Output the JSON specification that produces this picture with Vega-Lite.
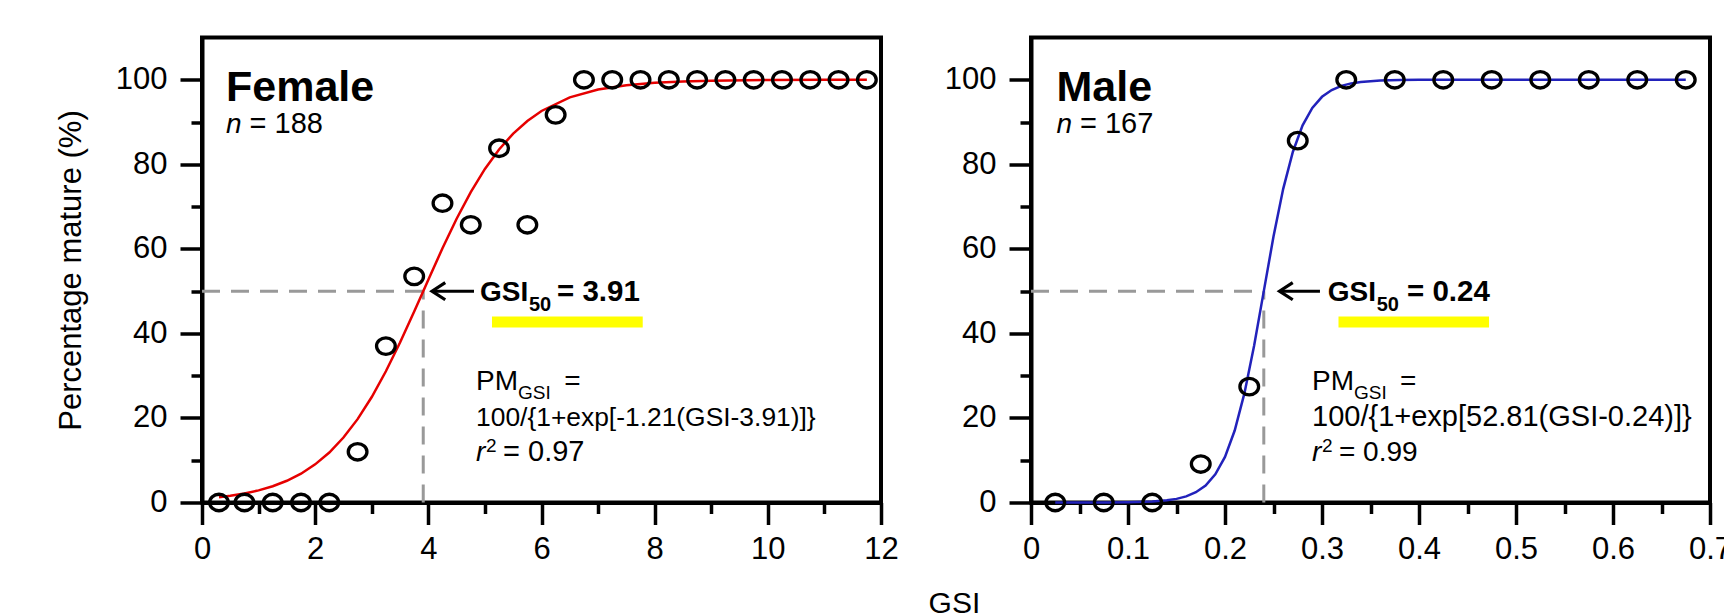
{
  "$schema": "https://vega.github.io/schema/vega-lite/v6.json",
  "background": "white",
  "padding": {"left": 53, "top": 35.5, "right": 0, "bottom": 0},
  "title": {"text": "GSI", "orient": "bottom", "anchor": "middle", "frame": "bounds", "dx": 61, "offset": 22, "font": "Liberation Sans", "fontSize": 30, "fontWeight": "normal", "color": "black"},
  "spacing": 150,
  "bounds": "flush",
  "datasets": {
    "f_obs": [
      {"x": 0.3, "y": 0}, {"x": 0.75, "y": 0}, {"x": 1.25, "y": 0}, {"x": 1.75, "y": 0}, {"x": 2.25, "y": 0},
      {"x": 2.75, "y": 12}, {"x": 3.25, "y": 37}, {"x": 3.75, "y": 53.5}, {"x": 4.25, "y": 70.8},
      {"x": 4.75, "y": 65.7}, {"x": 5.25, "y": 83.8}, {"x": 5.75, "y": 65.7}, {"x": 6.25, "y": 91.7},
      {"x": 6.75, "y": 100}, {"x": 7.25, "y": 100}, {"x": 7.75, "y": 100}, {"x": 8.25, "y": 100},
      {"x": 8.75, "y": 100}, {"x": 9.25, "y": 100}, {"x": 9.75, "y": 100}, {"x": 10.25, "y": 100},
      {"x": 10.75, "y": 100}, {"x": 11.25, "y": 100}, {"x": 11.75, "y": 100}
    ],
    "f_fit": [
      {"x": 0.3, "y": 1.25}, {"x": 0.5, "y": 1.59}, {"x": 0.75, "y": 2.14}, {"x": 1.0, "y": 2.87},
      {"x": 1.25, "y": 3.85}, {"x": 1.5, "y": 5.14}, {"x": 1.75, "y": 6.82}, {"x": 2.0, "y": 9.02},
      {"x": 2.25, "y": 11.83}, {"x": 2.5, "y": 15.37}, {"x": 2.75, "y": 19.72}, {"x": 3.0, "y": 24.96},
      {"x": 3.25, "y": 31.04}, {"x": 3.5, "y": 37.85}, {"x": 3.75, "y": 45.17}, {"x": 3.91, "y": 50},
      {"x": 4.0, "y": 52.72}, {"x": 4.25, "y": 60.14}, {"x": 4.5, "y": 67.13}, {"x": 4.75, "y": 73.43},
      {"x": 5.0, "y": 78.9}, {"x": 5.25, "y": 83.5}, {"x": 5.5, "y": 87.26}, {"x": 5.75, "y": 90.26},
      {"x": 6.0, "y": 92.62}, {"x": 6.5, "y": 95.83}, {"x": 7.0, "y": 97.68}, {"x": 7.5, "y": 98.72},
      {"x": 8.0, "y": 99.3}, {"x": 8.5, "y": 99.62}, {"x": 9.0, "y": 99.79}, {"x": 10.0, "y": 99.94},
      {"x": 11.0, "y": 99.98}, {"x": 11.75, "y": 99.99}
    ],
    "f_ann": [
      {"kind": "hl", "x": 5.125, "x2": 7.789, "y": 44.0, "y2": 41.4},
      {"kind": "dash", "x": 0, "x2": 3.91, "y": 50, "y2": 50},
      {"kind": "dash", "x": 3.91, "x2": 3.91, "y": 0, "y2": 50},
      {"kind": "arrow", "x": 4.1, "x2": 4.807, "y": 50},
      {"kind": "head", "x": 4.065, "y": 50},
      {"kind": "head1", "text": "Female", "x": 0.424, "y": 94.9},
      {"kind": "it", "text": "n", "x": 0.424, "y": 87.3},
      {"kind": "reg2", "text": "= 188", "x": 0.841, "y": 87.3},
      {"kind": "bold", "text": "GSI", "x": 4.913, "y": 47.55},
      {"kind": "boldsub", "text": "50", "x": 5.779, "y": 45.4},
      {"kind": "boldeq", "text": "= 3.91", "x": 6.274, "y": 47.55},
      {"kind": "reg", "text": "PM", "x": 4.843, "y": 26.5},
      {"kind": "sub", "text": "GSI", "x": 5.585, "y": 24.6},
      {"kind": "reg", "text": "=", "x": 6.4, "y": 26.5},
      {"kind": "l2", "text": "100/{1+exp[-1.21(GSI-3.91)]}", "x": 4.843, "y": 17.98},
      {"kind": "it", "text": "r", "x": 4.843, "y": 9.7},
      {"kind": "sub", "text": "2", "x": 5.019, "y": 12.06},
      {"kind": "req", "text": "= 0.97", "x": 5.32, "y": 9.7}
    ],
    "m_obs": [
      {"x": 0.025, "y": 0}, {"x": 0.075, "y": 0}, {"x": 0.125, "y": 0}, {"x": 0.175, "y": 9.1},
      {"x": 0.225, "y": 27.4}, {"x": 0.275, "y": 85.6}, {"x": 0.325, "y": 100}, {"x": 0.375, "y": 100},
      {"x": 0.425, "y": 100}, {"x": 0.475, "y": 100}, {"x": 0.525, "y": 100}, {"x": 0.575, "y": 100},
      {"x": 0.625, "y": 100}, {"x": 0.675, "y": 100}
    ],
    "m_fit": [
      {"x": 0.025, "y": 0.001}, {"x": 0.05, "y": 0.004}, {"x": 0.075, "y": 0.016}, {"x": 0.1, "y": 0.06},
      {"x": 0.125, "y": 0.23}, {"x": 0.14, "y": 0.51}, {"x": 0.15, "y": 0.86}, {"x": 0.16, "y": 1.44},
      {"x": 0.17, "y": 2.42}, {"x": 0.18, "y": 4.03}, {"x": 0.19, "y": 6.66}, {"x": 0.2, "y": 10.79},
      {"x": 0.21, "y": 17.02}, {"x": 0.22, "y": 25.8}, {"x": 0.23, "y": 37.09}, {"x": 0.24, "y": 50},
      {"x": 0.25, "y": 62.91}, {"x": 0.26, "y": 74.2}, {"x": 0.27, "y": 82.98}, {"x": 0.28, "y": 89.21},
      {"x": 0.29, "y": 93.34}, {"x": 0.3, "y": 95.97}, {"x": 0.31, "y": 97.58}, {"x": 0.32, "y": 98.56},
      {"x": 0.33, "y": 99.14}, {"x": 0.34, "y": 99.49}, {"x": 0.36, "y": 99.82}, {"x": 0.38, "y": 99.94},
      {"x": 0.4, "y": 99.98}, {"x": 0.5, "y": 100}, {"x": 0.675, "y": 100}
    ],
    "m_ann": [
      {"kind": "hl", "x": 0.317, "x2": 0.4722, "y": 44.0, "y2": 41.4},
      {"kind": "dash", "x": 0, "x2": 0.24, "y": 50, "y2": 50},
      {"kind": "dash", "x": 0.24, "x2": 0.24, "y": 0, "y2": 50},
      {"kind": "arrow", "x": 0.2577, "x2": 0.2979, "y": 50},
      {"kind": "head", "x": 0.2562, "y": 50},
      {"kind": "head1", "text": "Male", "x": 0.0263, "y": 94.9},
      {"kind": "it", "text": "n", "x": 0.0263, "y": 87.3},
      {"kind": "reg2", "text": "= 167", "x": 0.0505, "y": 87.3},
      {"kind": "bold", "text": "GSI", "x": 0.3059, "y": 47.55},
      {"kind": "boldsub", "text": "50", "x": 0.3564, "y": 45.4},
      {"kind": "boldeq", "text": "= 0.24", "x": 0.3876, "y": 47.55},
      {"kind": "reg", "text": "PM", "x": 0.2897, "y": 26.5},
      {"kind": "sub", "text": "GSI", "x": 0.333, "y": 24.6},
      {"kind": "reg", "text": "=", "x": 0.3805, "y": 26.5},
      {"kind": "l2", "text": "100/{1+exp[52.81(GSI-0.24)]}", "x": 0.2897, "y": 17.98},
      {"kind": "it", "text": "r", "x": 0.2897, "y": 9.7},
      {"kind": "sub", "text": "2", "x": 0.3, "y": 12.06},
      {"kind": "req", "text": "= 0.99", "x": 0.3175, "y": 9.7}
    ]
  },
  "hconcat": [
    {
      "width": 679,
      "height": 465,
      "encoding": {
        "x": {"field": "x", "type": "quantitative",
          "scale": {"domain": [0, 12], "nice": false, "zero": false},
          "axis": {"title": null, "values": [0,1,2,3,4,5,6,7,8,9,10,11,12],
            "labelExpr": "datum.value % 2 === 0 ? datum.label : ''",
            "tickSize": {"condition": {"test": "datum.value % 2 === 0", "value": 22}, "value": 11},
            "labelPadding": 10}},
        "y": {"field": "y", "type": "quantitative",
          "scale": {"domain": [0, 110], "nice": false, "zero": false},
          "axis": {"title": "Percentage mature (%)", "values": [0,10,20,30,40,50,60,70,80,90,100],
            "labelExpr": "datum.value % 20 === 0 ? datum.label : ''",
            "tickSize": {"condition": {"test": "datum.value % 20 === 0", "value": 22}, "value": 11},
            "labelPadding": 13, "titlePadding": 28}}
      },
      "layer": [
        {"data": {"name": "f_ann"}, "transform": [{"filter": "datum.kind === 'hl'"}],
          "mark": {"type": "rect", "color": "#ffff00"},
          "encoding": {"x2": {"field": "x2"}, "y2": {"field": "y2"}}},
        {"data": {"name": "f_ann"}, "transform": [{"filter": "datum.kind === 'dash'"}],
          "mark": {"type": "rule", "color": "#999999", "strokeWidth": 3, "strokeDash": [18, 11]},
          "encoding": {"x2": {"field": "x2"}, "y2": {"field": "y2"}}},
        {"data": {"name": "f_fit"}, "mark": {"type": "line", "color": "#e60000", "strokeWidth": 2.5}},
        {"data": {"name": "f_obs"}, "mark": {"type": "point", "shape": "M-1,0A1,0.88,0,1,1,1,0A1,0.88,0,1,1,-1,0Z", "size": 350, "filled": false, "stroke": "black", "strokeWidth": 3.3, "opacity": 1}},
        {"data": {"name": "f_ann"}, "transform": [{"filter": "datum.kind === 'arrow'"}],
          "mark": {"type": "rule", "color": "black", "strokeWidth": 3},
          "encoding": {"x2": {"field": "x2"}}},
        {"data": {"name": "f_ann"}, "transform": [{"filter": "datum.kind === 'head'"}],
          "mark": {"type": "point", "shape": "M1,-0.65L0,0L1,0.65", "size": 700, "filled": false, "stroke": "black", "strokeWidth": 3.2, "opacity": 1}},
        {"data": {"name": "f_ann"}, "transform": [{"filter": "datum.kind === 'head1'"}],
          "mark": {"type": "text", "align": "left", "baseline": "alphabetic", "font": "Liberation Sans", "fontSize": 43, "fontWeight": "bold", "color": "black"},
          "encoding": {"text": {"field": "text"}}},
        {"data": {"name": "f_ann"}, "transform": [{"filter": "datum.kind === 'it'"}],
          "mark": {"type": "text", "align": "left", "baseline": "alphabetic", "font": "Liberation Sans", "fontSize": 28, "fontStyle": "italic", "color": "black"},
          "encoding": {"text": {"field": "text"}}},
        {"data": {"name": "f_ann"}, "transform": [{"filter": "datum.kind === 'reg2'"}],
          "mark": {"type": "text", "align": "left", "baseline": "alphabetic", "font": "Liberation Sans", "fontSize": 29, "color": "black"},
          "encoding": {"text": {"field": "text"}}},
        {"data": {"name": "f_ann"}, "transform": [{"filter": "datum.kind === 'reg'"}],
          "mark": {"type": "text", "align": "left", "baseline": "alphabetic", "font": "Liberation Sans", "fontSize": 28, "color": "black"},
          "encoding": {"text": {"field": "text"}}},
        {"data": {"name": "f_ann"}, "transform": [{"filter": "datum.kind === 'req'"}],
          "mark": {"type": "text", "align": "left", "baseline": "alphabetic", "font": "Liberation Sans", "fontSize": 29, "color": "black"},
          "encoding": {"text": {"field": "text"}}},
        {"data": {"name": "f_ann"}, "transform": [{"filter": "datum.kind === 'l2'"}],
          "mark": {"type": "text", "align": "left", "baseline": "alphabetic", "font": "Liberation Sans", "fontSize": 26.4, "color": "black"},
          "encoding": {"text": {"field": "text"}}},
        {"data": {"name": "f_ann"}, "transform": [{"filter": "datum.kind === 'sub'"}],
          "mark": {"type": "text", "align": "left", "baseline": "alphabetic", "font": "Liberation Sans", "fontSize": 19, "color": "black"},
          "encoding": {"text": {"field": "text"}}},
        {"data": {"name": "f_ann"}, "transform": [{"filter": "datum.kind === 'bold'"}],
          "mark": {"type": "text", "align": "left", "baseline": "alphabetic", "font": "Liberation Sans", "fontSize": 28, "fontWeight": "bold", "color": "black"},
          "encoding": {"text": {"field": "text"}}},
        {"data": {"name": "f_ann"}, "transform": [{"filter": "datum.kind === 'boldeq'"}],
          "mark": {"type": "text", "align": "left", "baseline": "alphabetic", "font": "Liberation Sans", "fontSize": 29.5, "fontWeight": "bold", "color": "black"},
          "encoding": {"text": {"field": "text"}}},
        {"data": {"name": "f_ann"}, "transform": [{"filter": "datum.kind === 'boldsub'"}],
          "mark": {"type": "text", "align": "left", "baseline": "alphabetic", "font": "Liberation Sans", "fontSize": 20, "fontWeight": "bold", "color": "black"},
          "encoding": {"text": {"field": "text"}}}
      ]
    },
    {
      "width": 679,
      "height": 465,
      "encoding": {
        "x": {"field": "x", "type": "quantitative",
          "scale": {"domain": [0, 0.7], "nice": false, "zero": false},
          "axis": {"title": null, "values": [0,0.05,0.1,0.15,0.2,0.25,0.3,0.35,0.4,0.45,0.5,0.55,0.6,0.65,0.7],
            "labelExpr": "round(datum.value * 20) % 2 === 0 ? format(datum.value, '.1~f') : ''",
            "tickSize": {"condition": {"test": "round(datum.value * 20) % 2 === 0", "value": 22}, "value": 11},
            "labelPadding": 10}},
        "y": {"field": "y", "type": "quantitative",
          "scale": {"domain": [0, 110], "nice": false, "zero": false},
          "axis": {"title": null, "values": [0,10,20,30,40,50,60,70,80,90,100],
            "labelExpr": "datum.value % 20 === 0 ? datum.label : ''",
            "tickSize": {"condition": {"test": "datum.value % 20 === 0", "value": 22}, "value": 11},
            "labelPadding": 13}}
      },
      "layer": [
        {"data": {"name": "m_ann"}, "transform": [{"filter": "datum.kind === 'hl'"}],
          "mark": {"type": "rect", "color": "#ffff00"},
          "encoding": {"x2": {"field": "x2"}, "y2": {"field": "y2"}}},
        {"data": {"name": "m_ann"}, "transform": [{"filter": "datum.kind === 'dash'"}],
          "mark": {"type": "rule", "color": "#999999", "strokeWidth": 3, "strokeDash": [18, 11]},
          "encoding": {"x2": {"field": "x2"}, "y2": {"field": "y2"}}},
        {"data": {"name": "m_fit"}, "mark": {"type": "line", "color": "#2222bb", "strokeWidth": 2.5}},
        {"data": {"name": "m_obs"}, "mark": {"type": "point", "shape": "M-1,0A1,0.88,0,1,1,1,0A1,0.88,0,1,1,-1,0Z", "size": 350, "filled": false, "stroke": "black", "strokeWidth": 3.3, "opacity": 1}},
        {"data": {"name": "m_ann"}, "transform": [{"filter": "datum.kind === 'arrow'"}],
          "mark": {"type": "rule", "color": "black", "strokeWidth": 3},
          "encoding": {"x2": {"field": "x2"}}},
        {"data": {"name": "m_ann"}, "transform": [{"filter": "datum.kind === 'head'"}],
          "mark": {"type": "point", "shape": "M1,-0.65L0,0L1,0.65", "size": 700, "filled": false, "stroke": "black", "strokeWidth": 3.2, "opacity": 1}},
        {"data": {"name": "m_ann"}, "transform": [{"filter": "datum.kind === 'head1'"}],
          "mark": {"type": "text", "align": "left", "baseline": "alphabetic", "font": "Liberation Sans", "fontSize": 43, "fontWeight": "bold", "color": "black"},
          "encoding": {"text": {"field": "text"}}},
        {"data": {"name": "m_ann"}, "transform": [{"filter": "datum.kind === 'it'"}],
          "mark": {"type": "text", "align": "left", "baseline": "alphabetic", "font": "Liberation Sans", "fontSize": 28, "fontStyle": "italic", "color": "black"},
          "encoding": {"text": {"field": "text"}}},
        {"data": {"name": "m_ann"}, "transform": [{"filter": "datum.kind === 'reg2'"}],
          "mark": {"type": "text", "align": "left", "baseline": "alphabetic", "font": "Liberation Sans", "fontSize": 29, "color": "black"},
          "encoding": {"text": {"field": "text"}}},
        {"data": {"name": "m_ann"}, "transform": [{"filter": "datum.kind === 'reg'"}],
          "mark": {"type": "text", "align": "left", "baseline": "alphabetic", "font": "Liberation Sans", "fontSize": 28, "color": "black"},
          "encoding": {"text": {"field": "text"}}},
        {"data": {"name": "m_ann"}, "transform": [{"filter": "datum.kind === 'req'"}],
          "mark": {"type": "text", "align": "left", "baseline": "alphabetic", "font": "Liberation Sans", "fontSize": 28, "color": "black"},
          "encoding": {"text": {"field": "text"}}},
        {"data": {"name": "m_ann"}, "transform": [{"filter": "datum.kind === 'l2'"}],
          "mark": {"type": "text", "align": "left", "baseline": "alphabetic", "font": "Liberation Sans", "fontSize": 29, "color": "black"},
          "encoding": {"text": {"field": "text"}}},
        {"data": {"name": "m_ann"}, "transform": [{"filter": "datum.kind === 'sub'"}],
          "mark": {"type": "text", "align": "left", "baseline": "alphabetic", "font": "Liberation Sans", "fontSize": 19, "color": "black"},
          "encoding": {"text": {"field": "text"}}},
        {"data": {"name": "m_ann"}, "transform": [{"filter": "datum.kind === 'bold'"}],
          "mark": {"type": "text", "align": "left", "baseline": "alphabetic", "font": "Liberation Sans", "fontSize": 28, "fontWeight": "bold", "color": "black"},
          "encoding": {"text": {"field": "text"}}},
        {"data": {"name": "m_ann"}, "transform": [{"filter": "datum.kind === 'boldeq'"}],
          "mark": {"type": "text", "align": "left", "baseline": "alphabetic", "font": "Liberation Sans", "fontSize": 29.5, "fontWeight": "bold", "color": "black"},
          "encoding": {"text": {"field": "text"}}},
        {"data": {"name": "m_ann"}, "transform": [{"filter": "datum.kind === 'boldsub'"}],
          "mark": {"type": "text", "align": "left", "baseline": "alphabetic", "font": "Liberation Sans", "fontSize": 20, "fontWeight": "bold", "color": "black"},
          "encoding": {"text": {"field": "text"}}}
      ]
    }
  ],
  "config": {
    "view": {"stroke": "black", "strokeWidth": 4},
    "axis": {
      "grid": false,
      "domainColor": "black", "domainWidth": 4,
      "tickColor": "black", "tickWidth": 3.5,
      "labelFont": "Liberation Sans", "labelFontSize": 31, "labelColor": "black",
      "labelFlush": false, "labelOverlap": false, "labelBound": false,
      "titleFont": "Liberation Sans", "titleFontSize": 31, "titleFontWeight": "normal", "titleColor": "black"
    }
  }
}
